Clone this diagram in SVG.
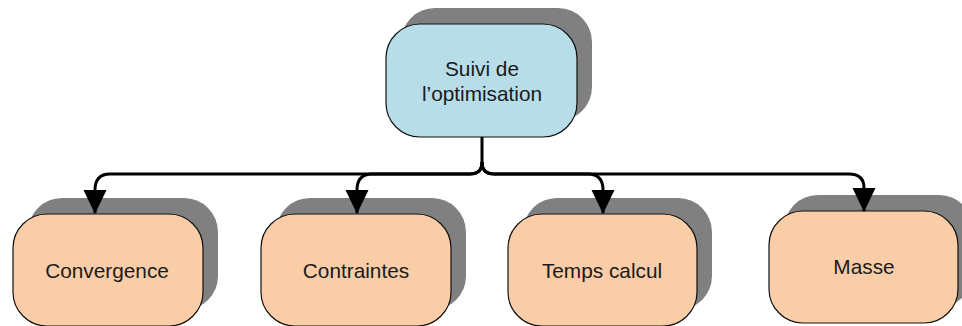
<svg xmlns="http://www.w3.org/2000/svg" width="962" height="326" viewBox="0 0 962 326">
<defs>
<style>
.shadow{fill:#808080;}
.box{stroke:#111;stroke-width:1.2;}
.top{fill:#b7dde8;}
.leaf{fill:#f9cda7;}
.lbl{font-family:"Liberation Sans",Arial,sans-serif;font-size:20.8px;fill:#1a1a1a;text-anchor:middle;}
.conn{fill:none;stroke:#000;stroke-width:3;stroke-linejoin:round;}
</style>
<marker id="arrow" markerUnits="userSpaceOnUse" markerWidth="24" markerHeight="24" refX="23" refY="11.5" orient="auto" viewBox="0 0 24 23">
<path d="M0,0 L24,11.5 L0,23 z" fill="#000"/>
</marker>
</defs>
<rect width="962" height="326" fill="#fff"/>

<g id="node-suivi">
<rect class="shadow" x="401" y="8" width="191" height="113" rx="34"/>
<rect class="box top" x="386" y="24" width="191" height="113" rx="34"/>
<text class="lbl" x="482" y="76">Suivi de</text>
<text class="lbl" x="482" y="101">l’optimisation</text>
</g>

<g id="node-convergence">
<rect class="shadow" x="28" y="198" width="190" height="112" rx="34"/>
<rect class="box leaf" x="13" y="214" width="190" height="112" rx="34"/>
<text class="lbl" x="107" y="278">Convergence</text>
</g>

<g id="node-contraintes">
<rect class="shadow" x="276" y="198" width="190" height="112" rx="34"/>
<rect class="box leaf" x="261" y="214" width="190" height="112" rx="34"/>
<text class="lbl" x="356" y="278">Contraintes</text>
</g>

<g id="node-temps">
<rect class="shadow" x="523" y="198" width="189" height="112" rx="34"/>
<rect class="box leaf" x="508" y="214" width="189" height="112" rx="34"/>
<text class="lbl" x="602" y="278">Temps calcul</text>
</g>

<g id="node-masse">
<rect class="shadow" x="784" y="195" width="189" height="112" rx="34"/>
<rect class="box leaf" x="769" y="211" width="189" height="112" rx="34"/>
<text class="lbl" x="864" y="274">Masse</text>
</g>

<g id="connectors">
<path class="conn" marker-end="url(#arrow)" d="M482,137 V162 Q482,174 470,174 H110 Q95,174 95,190 V213"/>
<path class="conn" marker-end="url(#arrow)" d="M482,162 Q482,174 470,174 H372 Q357,174 357,190 V213"/>
<path class="conn" marker-end="url(#arrow)" d="M482,162 Q482,174 494,174 H588 Q603,174 603,190 V213"/>
<path class="conn" marker-end="url(#arrow)" d="M482,162 Q482,174 494,174 H849 Q864,174 864,188 V211"/>
</g>
</svg>
